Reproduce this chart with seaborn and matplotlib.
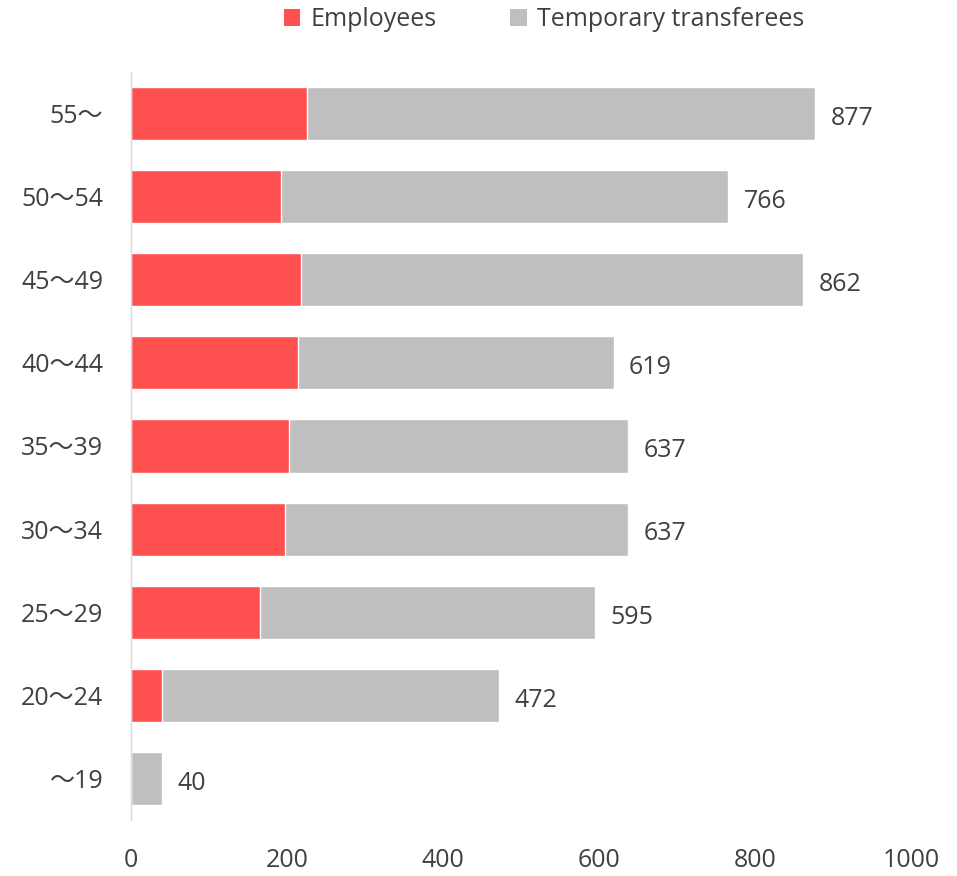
import matplotlib
matplotlib.use("Agg")
import matplotlib.pyplot as plt
import seaborn as sns
import pandas as pd
from matplotlib.patches import Patch

categories = ["55～", "50～54", "45～49", "40～44", "35～39", "30～34", "25～29", "20～24", "～19"]
employees = [226, 192, 218, 214, 202, 197, 166, 40, 0]
transferees = [651, 574, 644, 405, 435, 440, 429, 432, 40]
totals = [e + t for e, t in zip(employees, transferees)]
xticks = [0, 200, 400, 600, 800, 1000]

sns.set_theme(style="white")
plt.rcParams["font.family"] = ["Open Sans", "Noto Sans CJK JP", "DejaVu Sans"]

RED = "#FF5050"
GRAY = "#BFBFBF"
TXT = "#404040"
FS = 18

df = pd.DataFrame({"cat": categories, "emp": employees, "total": totals})

fig = plt.figure(figsize=(9.57, 8.76), dpi=100)
ax = fig.add_axes([131 / 957, 1 - 820 / 876, (911 - 131) / 957, (820 - 72) / 876])

sns.barplot(data=df, x="total", y="cat", orient="h", color=GRAY, width=0.64,
            saturation=1, ax=ax, order=categories)
sns.barplot(data=df, x="emp", y="cat", orient="h", color=RED, width=0.64,
            saturation=1, ax=ax, order=categories)

texts = ax.bar_label(ax.containers[0], labels=[str(t) for t in totals], padding=11,
                     fontsize=FS, color=TXT)
for t in texts:
    t.xyann = (11, -3.5)

ax.set_xlim(0, 1000)
ax.set_ylim(8.5, -0.5)
ax.set_xticks(xticks)
ax.set_xticklabels([str(v) for v in xticks])
ax.set_xlabel("")
ax.set_ylabel("")
ax.tick_params(axis="both", length=0, labelsize=FS, colors=TXT)
ax.tick_params(axis="x", pad=20)
ax.tick_params(axis="y", pad=20)
for s in ["top", "right", "bottom"]:
    ax.spines[s].set_visible(False)
ax.spines["left"].set_color("#D9D9D9")
ax.spines["left"].set_linewidth(1)

handles = [Patch(facecolor=RED, edgecolor="none", label="Employees"),
           Patch(facecolor=GRAY, edgecolor="none", label="Temporary transferees")]
fig.legend(handles=handles, loc="center", bbox_to_anchor=(544 / 957, 1 - 20 / 876),
           ncol=2, frameon=False, fontsize=FS, handlelength=0.65, handleheight=0.65,
           handletextpad=0.4, columnspacing=2.95, labelcolor=TXT)

fig.savefig("out.png", dpi=100)
